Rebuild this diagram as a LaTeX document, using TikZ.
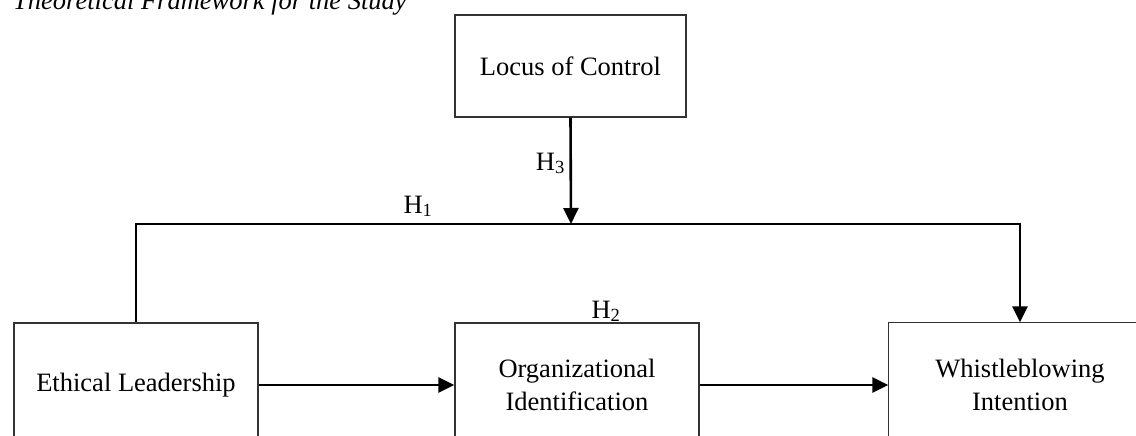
\documentclass[tikz,border=0pt]{standalone}
\usepackage{fontspec}
\setmainfont{Liberation Serif}
\usetikzlibrary{arrows.meta}
\begin{document}
\begin{tikzpicture}[x=1pt,y=-1pt,
  boxline/.style={draw=black!80,line width=1.4pt},
  box/.style={boxline,minimum width=244pt,minimum height=124pt,inner sep=0pt,align=center,font=\fontsize{26.5}{33}\selectfont},
  arr/.style={line width=2.6pt,-{Triangle[length=16pt,width=15pt]}},
  lab/.style={font=\fontsize{26.5}{33}\selectfont,inner sep=0pt}]
\useasboundingbox (0,0) rectangle (1136,436);
\clip (0,0) rectangle (1136,436);
\node[lab,anchor=base west,font=\fontsize{26.5}{33}\selectfont\itshape] (title) at (13,10) {Theoretical Framework for the Study};
\node[box,minimum width=231pt,minimum height=102pt] (loc) at (570.5,66) {Locus of Control};
\node[box] (eth) at (136,385) {Ethical Leadership};
\node[box] (org) at (577,385) {Organizational\\Identification};
\node[box,draw=none,minimum width=262pt] (wh) at (1020,385) {Whistleblowing\\Intention};
\draw[boxline] ([xshift=20pt]wh.north east) -- (wh.north west) -- (wh.south west);
\coordinate (jn) at (571,224);
\draw[arr] (loc.south) -- (jn);
\draw[arr] (eth.north) -- (eth.north |- jn) -- (wh.north |- jn) -- (wh.north);
\draw[arr] (eth.east) -- (org.west);
\draw[arr] (org.east) -- (wh.west);
\node[lab,anchor=base] (h1) at (418,213) {H\textsubscript{1}};
\node[lab,anchor=base] (h2) at (606,318) {H\textsubscript{2}};
\node[lab,anchor=base east] (h3) at (565,170) {H\textsubscript{3}};
\end{tikzpicture}
\end{document}
